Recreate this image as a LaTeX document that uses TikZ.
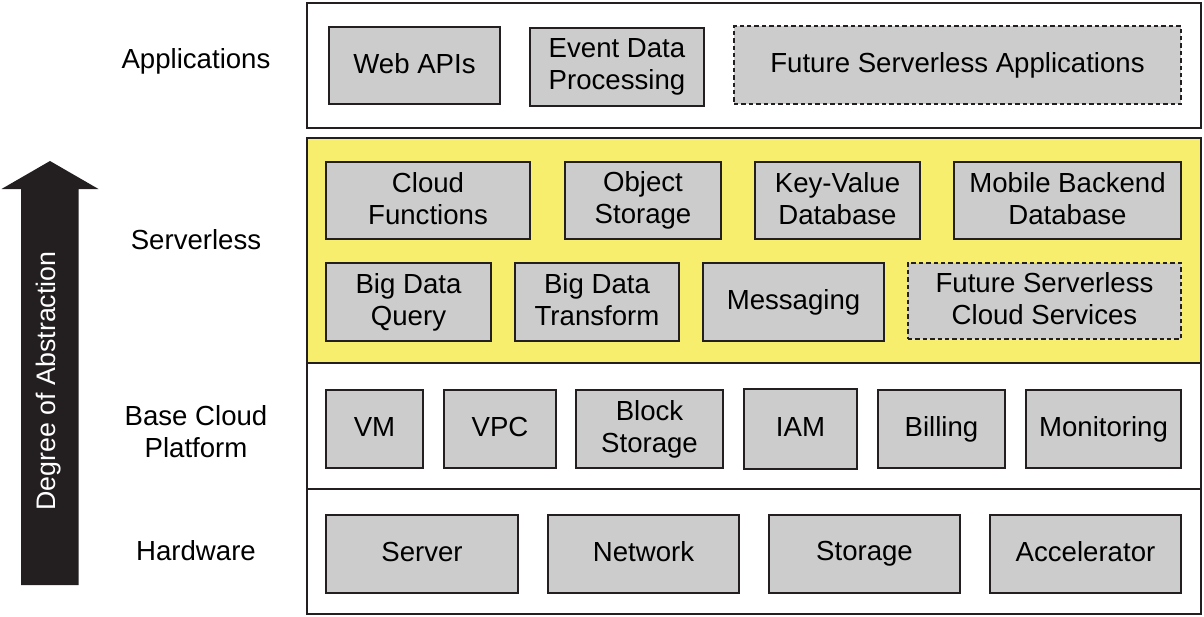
\documentclass[tikz,border=0pt]{standalone}
\usepackage{fontspec}
\setmainfont{Liberation Sans}
\definecolor{ink}{HTML}{231F20}
\definecolor{boxgray}{HTML}{CCCCCC}
\definecolor{srvyellow}{HTML}{F8EE6E}
\newcommand\bxstrut{\rule[-2.5pt]{0pt}{11.5pt}}
\begin{document}
\begin{tikzpicture}[x=0.5pt,y=-0.5pt,
  layer/.style={draw=ink, line width=0.85pt},
  svc/.style={draw=ink, fill=boxgray, line width=1.2pt, align=center, inner sep=0pt,
    font=\fontsize{13.8}{16}\selectfont,
    execute at begin node=\bxstrut, execute at end node=\bxstrut},
  future/.style={svc, dash pattern=on 2.2pt off 1.5pt},
  lbl/.style={align=center, font=\fontsize{13.8}{16}\selectfont,
    execute at begin node=\bxstrut, execute at end node=\bxstrut}]
\useasboundingbox (0,0) rectangle (1204,616);

% layers
\draw[layer] (307,3) rectangle (1201,128);
\draw[layer, fill=srvyellow] (307,138) rectangle (1201,363);
\draw[layer] (307,363) rectangle (1201,489);
\draw[layer] (307,489) rectangle (1201,614);

\node[lbl] (lapp) at (196,61) {Applications};
\node[lbl] (lsrv) at (196,242) {Serverless};
\node[lbl] (lbase) at (196,434) {Base Cloud\\Platform};
\node[lbl] (lhw) at (196,553) {Hardware};

% applications
\node[svc, minimum width=85.5pt, minimum height=38.5pt] (webapi) at (414.5,65.5) {Web APIs};
\node[svc, minimum width=87pt, minimum height=39pt] (event) at (617,67) {Event Data\\Processing};
\node[future, minimum width=223.5pt, minimum height=39pt] (futapp) at (957.5,65) {Future Serverless Applications};

% serverless
\node[svc, minimum width=102pt, minimum height=38.5pt] (cfunc) at (428,200.5) {Cloud\\Functions};
\node[svc, minimum width=78pt, minimum height=38.5pt] (objst) at (643,200.5) {Object\\Storage};
\node[svc, minimum width=82.5pt, minimum height=38.5pt] (kvdb) at (837.5,200.5) {Key-Value\\Database};
\node[svc, minimum width=113.5pt, minimum height=38.5pt] (mobdb) at (1067.5,200.5) {Mobile Backend\\Database};
\node[svc, minimum width=82.5pt, minimum height=39pt] (bdq) at (408.5,302) {Big Data\\Query};
\node[svc, minimum width=82pt, minimum height=39pt] (bdt) at (597,302) {Big Data\\Transform};
\node[svc, minimum width=90.5pt, minimum height=39pt] (msg) at (793.5,302) {Messaging};
\node[future, minimum width=136.5pt, minimum height=38pt] (futsvc) at (1044.5,301) {Future Serverless\\Cloud Services};

% base cloud platform
\node[svc, minimum width=48.5pt, minimum height=39pt] (vm) at (374.5,429) {VM};
\node[svc, minimum width=56pt, minimum height=39pt] (vpc) at (500,429) {VPC};
\node[svc, minimum width=73.5pt, minimum height=39pt] (blk) at (649.5,429) {Block\\Storage};
\node[svc, minimum width=56.5pt, minimum height=40pt] (iam) at (800.5,429) {IAM};
\node[svc, minimum width=63.5pt, minimum height=39pt] (bill) at (941.5,429) {Billing};
\node[svc, minimum width=77.5pt, minimum height=39pt] (mon) at (1103.5,429) {Monitoring};

% hardware
\node[svc, minimum width=96pt, minimum height=39pt] (server) at (422,554) {Server};
\node[svc, minimum width=95.5pt, minimum height=39pt] (net) at (643.5,554) {Network};
\node[svc, minimum width=95.5pt, minimum height=39pt] (stor) at (864.5,554) {Storage};
\node[svc, minimum width=95.5pt, minimum height=39pt] (accel) at (1085.5,554) {Accelerator};

% abstraction arrow
\fill[ink] (21,585)--(21,189)--(1.5,189)--(50,161)--(98.5,189)--(78.5,189)--(78.5,585)--cycle;
\node[rotate=90, text=white, font=\fontsize{13.4}{16}\selectfont] (abst) at (49,381) {Degree of Abstraction};
\end{tikzpicture}
\end{document}
